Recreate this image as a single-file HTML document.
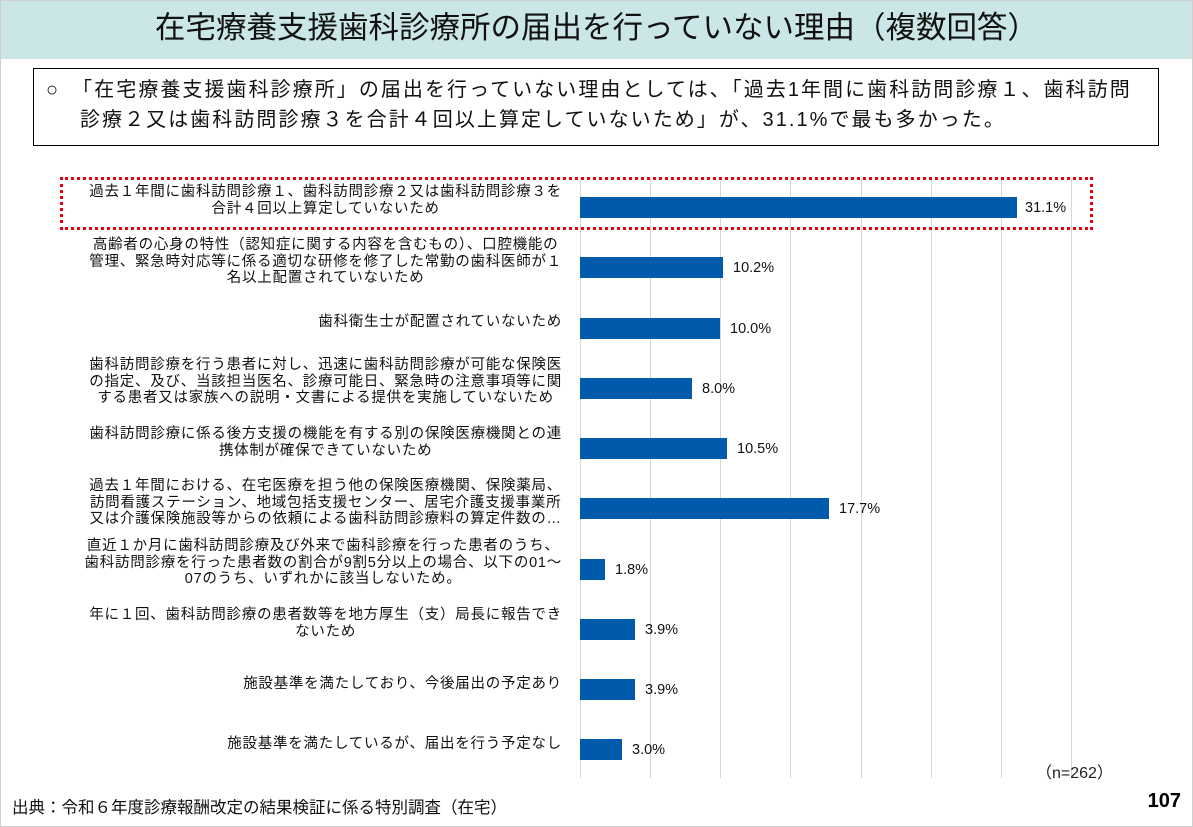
<!DOCTYPE html>
<html><head><meta charset="utf-8"><style>
body{margin:0;width:1193px;height:827px;position:relative;background:#fff;font-family:"Liberation Sans","Noto Sans CJK JP",sans-serif;overflow:hidden;color:#000}
.page{position:absolute;left:0;top:0;width:1191px;height:825px;border:1px solid #d0d0d0}
.title{position:absolute;left:1px;top:1px;width:1191px;height:58px;background:#cbe6e6;text-align:center;font-size:30.5px;line-height:54px;color:#111}
.box{position:absolute;left:33px;top:68px;width:1124px;height:76px;border:1.5px solid #000;font-size:20px;line-height:28px;color:#111;letter-spacing:2.05px;white-space:nowrap}
.grid{position:absolute;top:178px;height:600px;width:1px;background:#d6d6d6}
.bar{position:absolute;left:580px;height:21px;background:#005bac}
.val{position:absolute;font-size:14.5px;line-height:20px;color:#111}
.lab{position:absolute;right:631px;font-size:14.5px;line-height:16.5px;text-align:center;white-space:nowrap;color:#111;letter-spacing:0.75px}
.red{position:absolute;left:60px;top:177px;width:1027px;height:47px;border:3px dotted #e8000b}
</style></head><body>
<div class="page"></div>
<div class="title">在宅療養支援歯科診療所の届出を行っていない理由（複数回答）</div>
<div class="box"><div style="position:absolute;left:12px;top:7px">○　「在宅療養支援歯科診療所」の届出を行っていない理由としては、「過去1年間に歯科訪問診療１、歯科訪問</div><div style="position:absolute;left:46px;top:37px">診療２又は歯科訪問診療３を合計４回以上算定していないため」が、31.1%で最も多かった。</div></div>

<div class="grid" style="left:580px"></div><div class="grid" style="left:650px"></div><div class="grid" style="left:720px"></div><div class="grid" style="left:790px"></div><div class="grid" style="left:861px"></div><div class="grid" style="left:931px"></div><div class="grid" style="left:1001px"></div><div class="grid" style="left:1071px"></div>

<div class="red"></div>

<div class="bar" style="top:197px;width:437px"></div><div class="val" style="left:1025px;top:198px">31.1%</div>
<div class="bar" style="top:257px;width:143px"></div><div class="val" style="left:733px;top:258px">10.2%</div>
<div class="bar" style="top:318px;width:140px"></div><div class="val" style="left:730px;top:319px">10.0%</div>
<div class="bar" style="top:378px;width:112px"></div><div class="val" style="left:702px;top:379px">8.0%</div>
<div class="bar" style="top:438px;width:147px"></div><div class="val" style="left:737px;top:439px">10.5%</div>
<div class="bar" style="top:498px;width:249px"></div><div class="val" style="left:839px;top:499px">17.7%</div>
<div class="bar" style="top:559px;width:25px"></div><div class="val" style="left:615px;top:560px">1.8%</div>
<div class="bar" style="top:619px;width:55px"></div><div class="val" style="left:645px;top:620px">3.9%</div>
<div class="bar" style="top:679px;width:55px"></div><div class="val" style="left:645px;top:680px">3.9%</div>
<div class="bar" style="top:739px;width:42px"></div><div class="val" style="left:632px;top:740px">3.0%</div>

<div class="lab" style="top:184px">過去１年間に歯科訪問診療１、歯科訪問診療２又は歯科訪問診療３を<br>合計４回以上算定していないため</div>
<div class="lab" style="top:237px">高齢者の心身の特性（認知症に関する内容を含むもの）、口腔機能の<br>管理、緊急時対応等に係る適切な研修を修了した常勤の歯科医師が１<br>名以上配置されていないため</div>
<div class="lab" style="top:314px">歯科衛生士が配置されていないため</div>
<div class="lab" style="top:357px">歯科訪問診療を行う患者に対し、迅速に歯科訪問診療が可能な保険医<br>の指定、及び、当該担当医名、診療可能日、緊急時の注意事項等に関<br>する患者又は家族への説明・文書による提供を実施していないため</div>
<div class="lab" style="top:426px">歯科訪問診療に係る後方支援の機能を有する別の保険医療機関との連<br>携体制が確保できていないため</div>
<div class="lab" style="top:478px">過去１年間における、在宅医療を担う他の保険医療機関、保険薬局、<br>訪問看護ステーション、地域包括支援センター、居宅介護支援事業所<br>又は介護保険施設等からの依頼による歯科訪問診療料の算定件数の…</div>
<div class="lab" style="top:538px">直近１か月に歯科訪問診療及び外来で歯科診療を行った患者のうち、<br>歯科訪問診療を行った患者数の割合が9割5分以上の場合、以下の01～<br>07のうち、いずれかに該当しないため。</div>
<div class="lab" style="top:607px">年に１回、歯科訪問診療の患者数等を地方厚生（支）局長に報告でき<br>ないため</div>
<div class="lab" style="top:676px">施設基準を満たしており、今後届出の予定あり</div>
<div class="lab" style="top:736px">施設基準を満たしているが、届出を行う予定なし</div>

<div style="position:absolute;left:1036px;top:759px;font-size:16px;color:#222">（n=262）</div>
<div style="position:absolute;left:12px;top:794px;font-size:16.5px;color:#111">出典：令和６年度診療報酬改定の結果検証に係る特別調査（在宅）</div>
<div style="position:absolute;right:12px;top:790px;font-size:20px;font-weight:bold">107</div>
</body></html>
